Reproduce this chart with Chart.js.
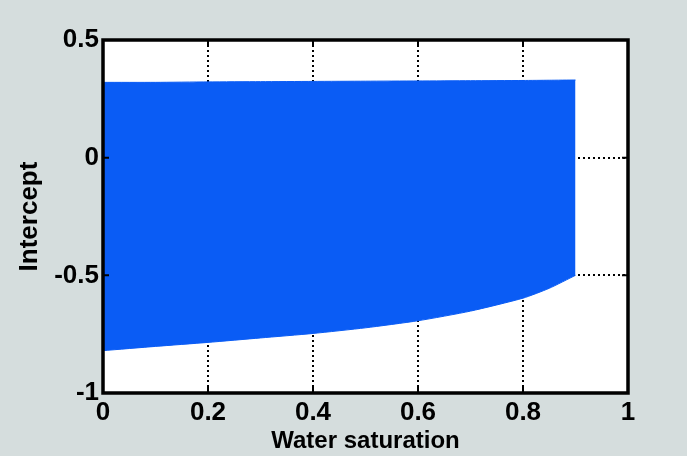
<!DOCTYPE html>
<html>
<head>
<meta charset="utf-8">
<script src="https://cdn.jsdelivr.net/npm/chart.js@4"></script>
<style>
  html, body { margin: 0; padding: 0; background: #d5dddd; }
  #wrap { width: 687px; height: 456px; }
</style>
</head>
<body>
<div id="wrap"><canvas id="interceptChart" width="687" height="456"></canvas></div>
<script>
  // water saturation samples and intercept bounds
  const saturation = [0, 0.1, 0.2, 0.3, 0.4, 0.5, 0.6, 0.7, 0.8, 0.85, 0.9];
  const upperIntercept = [0.32, 0.32, 0.322, 0.323, 0.324, 0.325, 0.326, 0.327, 0.328, 0.329, 0.33];
  const lowerIntercept = [-0.82, -0.802, -0.785, -0.766, -0.747, -0.723, -0.693, -0.652, -0.597, -0.555, -0.50];
  const xTicks = [0, 0.2, 0.4, 0.6, 0.8, 1];
  const yTicks = [-1, -0.5, 0, 0.5];

  const fillBlue = "#0a5cf5";

  const toPoints = (xs, ys) => xs.map((x, i) => ({ x: x, y: ys[i] }));
  const fmt = v => String(Math.round(v * 10) / 10);

  // box around plot + short inside tick marks like matlab
  const frame = {
    id: "frame",
    beforeDraw(chart) {
      const { ctx, chartArea: a } = chart;
      ctx.save();
      ctx.fillStyle = "#fff";
      ctx.fillRect(a.left, a.top, a.right - a.left, a.bottom - a.top);
      ctx.restore();
    },
    afterDraw(chart) {
      const { ctx, chartArea: a, scales } = chart;
      ctx.save();
      ctx.strokeStyle = "#000";
      ctx.lineWidth = 2;
      xTicks.forEach(v => {
        const px = scales.x.getPixelForValue(v);
        ctx.beginPath();
        ctx.moveTo(px, a.bottom); ctx.lineTo(px, a.bottom - 6);
        ctx.moveTo(px, a.top); ctx.lineTo(px, a.top + 6);
        ctx.stroke();
      });
      yTicks.forEach(v => {
        const py = scales.y.getPixelForValue(v);
        ctx.beginPath();
        ctx.moveTo(a.left, py); ctx.lineTo(a.left + 6, py);
        ctx.moveTo(a.right, py); ctx.lineTo(a.right - 6, py);
        ctx.stroke();
      });
      ctx.lineWidth = 3.5;
      ctx.strokeRect(a.left, a.top, a.right - a.left, a.bottom - a.top);
      ctx.restore();
    }
  };

  const ctx = document.getElementById("interceptChart").getContext("2d");

  const chart = new Chart(ctx, {
    type: "line",
    data: {
      datasets: [{
        label: "lower",
        data: toPoints(saturation, lowerIntercept),
        borderColor: fillBlue,
        borderWidth: 1,
        pointRadius: 0,
        tension: 0.2,
        fill: false
      }, {
        label: "upper",
        data: toPoints(saturation, upperIntercept),
        borderColor: fillBlue,
        backgroundColor: fillBlue,
        borderWidth: 1,
        pointRadius: 0,
        tension: 0.2,
        fill: 0
      }]
    },
    options: {
      responsive: false,
      animation: false,
      layout: { padding: { top: 40, right: 59, left: 14, bottom: 0 } },
      plugins: { legend: { display: false }, tooltip: { enabled: false } },
      scales: {
        x: {
          type: "linear",
          min: 0,
          max: 1,
          afterBuildTicks: s => { s.ticks = xTicks.map(v => ({ value: v })); },
          afterFit: s => { s.height = 63; },
          grid: { color: "#000", lineWidth: 2, drawTicks: false },
          border: { display: false, dash: [2, 3] },
          ticks: {
            color: "#000",
            padding: 4,
            callback: v => fmt(v),
            font: { family: "Liberation Sans", size: 26, weight: "bold" }
          },
          title: {
            display: true,
            text: "Water saturation",
            color: "#000",
            padding: { top: -4, bottom: 0 },
            font: { family: "Liberation Sans", size: 24, weight: "bold" }
          }
        },
        y: {
          type: "linear",
          min: -1,
          max: 0.5,
          afterBuildTicks: s => { s.ticks = yTicks.map(v => ({ value: v })); },
          afterFit: s => { s.width = 89; },
          grid: { color: "#000", lineWidth: 2, drawTicks: false },
          border: { display: false, dash: [2, 3] },
          ticks: {
            color: "#000",
            padding: 4,
            callback: v => fmt(v),
            font: { family: "Liberation Sans", size: 26, weight: "bold" }
          },
          title: {
            display: true,
            text: "Intercept",
            color: "#000",
            padding: { top: 0, bottom: 0 },
            font: { family: "Liberation Sans", size: 26, weight: "bold" }
          }
        }
      }
    },
    plugins: [frame]
  });
</script>
</body>
</html>
